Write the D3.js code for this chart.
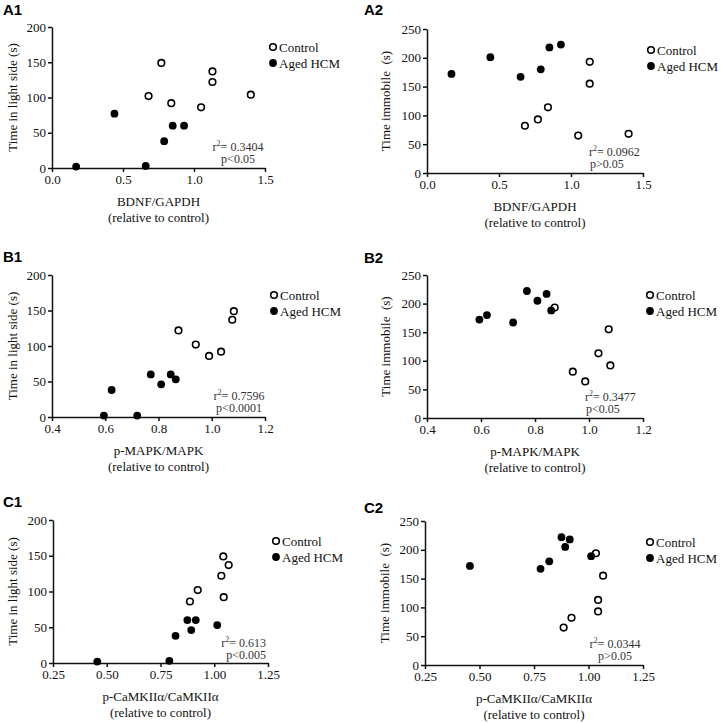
<!DOCTYPE html>
<html>
<head>
<meta charset="utf-8">
<script src="https://cdn.jsdelivr.net/npm/d3@7"></script>
<style>
  html, body { margin: 0; padding: 0; background: #fff; }
  svg { display: block; }
</style>
</head>
<body>
<div id="chart"></div>
<script>
// values
const a1Control = [[0.77, 149], [0.68, 102], [0.84, 92], [1.05, 86], [1.13, 137], [1.13, 122], [1.40, 104]];
const a1Aged = [[0.17, 2], [0.44, 77], [0.66, 3], [0.79, 38], [0.85, 60], [0.93, 60]];
const a2Control = [[0.68, 82], [0.77, 93], [0.84, 114], [1.05, 65], [1.13, 193], [1.13, 155], [1.40, 68]];
const a2Aged = [[0.17, 172], [0.44, 201], [0.65, 167], [0.79, 180], [0.85, 218], [0.93, 223]];
const b1Control = [[0.875, 122], [0.94, 102], [0.99, 86], [1.035, 92], [1.077, 137], [1.083, 149]];
const b1Aged = [[0.595, 2], [0.624, 38], [0.72, 2], [0.771, 60], [0.81, 46], [0.846, 60], [0.865, 53]];
const b2Control = [[0.873, 193], [0.94, 81], [0.986, 64], [1.035, 113], [1.073, 155], [1.079, 92]];
const b2Aged = [[0.594, 172], [0.622, 180], [0.719, 167], [0.77, 222], [0.809, 205], [0.843, 217], [0.86, 188]];
const c1Control = [[0.887, 86], [0.923, 102], [1.033, 122], [1.042, 149], [1.067, 137], [1.044, 92]];
const c1Aged = [[0.456, 2], [0.791, 3], [0.82, 38], [0.875, 60], [0.914, 60], [0.893, 46], [1.014, 53]];
const c2Control = [[0.886, 65], [0.922, 82], [1.044, 113], [1.044, 93], [1.067, 155], [1.034, 194]];
const c2Aged = [[0.456, 172], [0.78, 167], [0.82, 180], [0.876, 222], [0.914, 218], [0.893, 205], [1.012, 189]];

const xTicksBDNF = [0, 0.5, 1.0, 1.5];
const xTicksMAPK = [0.4, 0.6, 0.8, 1.0, 1.2];
const xTicksCaMK = [0.25, 0.5, 0.75, 1.0, 1.25];
const yTicksLight = [0, 50, 100, 150, 200];
const yTicksImmobile = [0, 50, 100, 150, 200, 250];

const legendLabels = ["Control", "Aged HCM"];
const xTitlesBDNF = ["BDNF/GAPDH", "(relative to control)"];
const xTitlesMAPK = ["p-MAPK/MAPK", "(relative to control)"];
const xTitlesCaMK = ["p-CaMKIIα/CaMKIIα", "(relative to control)"];
const yTitleLight = "Time in light side (s)";
const yTitleImmobile = "Time immobile  (s)";

const panels = [
  { label: "A1", lx: 3, ly: 15, x0: 52, x1: 265, yTop: 27, yBot: 168,
    xDom: [0, 1.5], xTicks: xTicksBDNF, xFmt: ".1f", yDom: [0, 200], yTicks: yTicksLight,
    control: a1Control, aged: a1Aged, xTitle: xTitlesBDNF, yTitle: yTitleLight, yTitleX: 17,
    legX: 273, legY: 47, stat: ["0.3404", "p<0.05"], statX: 238, statY: 151, statAnchor: "middle" },
  { label: "A2", lx: 364, ly: 15, x0: 427, x1: 643, yTop: 29, yBot: 173,
    xDom: [0, 1.5], xTicks: xTicksBDNF, xFmt: ".1f", yDom: [0, 250], yTicks: yTicksImmobile,
    control: a2Control, aged: a2Aged, xTitle: xTitlesBDNF, yTitle: yTitleImmobile, yTitleX: 390,
    legX: 651, legY: 50, stat: ["0.0962", "p>0.05"], statX: 589, statY: 156, statAnchor: "start" },
  { label: "B1", lx: 3, ly: 262, x0: 52, x1: 265, yTop: 275, yBot: 417,
    xDom: [0.4, 1.2], xTicks: xTicksMAPK, xFmt: ".1f", yDom: [0, 200], yTicks: yTicksLight,
    control: b1Control, aged: b1Aged, xTitle: xTitlesMAPK, yTitle: yTitleLight, yTitleX: 17,
    legX: 274, legY: 295, stat: ["0.7596", "p<0.0001"], statX: 239, statY: 400, statAnchor: "middle" },
  { label: "B2", lx: 364, ly: 263, x0: 427, x1: 643, yTop: 275, yBot: 418,
    xDom: [0.4, 1.2], xTicks: xTicksMAPK, xFmt: ".1f", yDom: [0, 250], yTicks: yTicksImmobile,
    control: b2Control, aged: b2Aged, xTitle: xTitlesMAPK, yTitle: yTitleImmobile, yTitleX: 390,
    legX: 650, legY: 295, stat: ["0.3477", "p<0.05"], statX: 585, statY: 401, statAnchor: "start" },
  { label: "C1", lx: 3, ly: 507, x0: 53, x1: 268, yTop: 520, yBot: 663,
    xDom: [0.25, 1.25], xTicks: xTicksCaMK, xFmt: ".2f", yDom: [0, 200], yTicks: yTicksLight,
    control: c1Control, aged: c1Aged, xTitle: xTitlesCaMK, yTitle: yTitleLight, yTitleX: 17,
    legX: 276, legY: 541, stat: ["0.613", "p<0.005"], statX: 266, statY: 647, statAnchor: "end" },
  { label: "C2", lx: 364, ly: 513, x0: 425, x1: 643, yTop: 521, yBot: 665,
    xDom: [0.25, 1.25], xTicks: xTicksCaMK, xFmt: ".2f", yDom: [0, 250], yTicks: yTicksImmobile,
    control: c2Control, aged: c2Aged, xTitle: xTitlesCaMK, yTitle: yTitleImmobile, yTitleX: 389,
    legX: 650, legY: 542, stat: ["0.0344", "p>0.05"], statX: 615, statY: 648, statAnchor: "middle" }
];

const serif = '"Liberation Serif", "DejaVu Serif", serif';

const svg = d3.select("#chart").append("svg")
  .attr("width", 723)
  .attr("height", 723);

function styleAxis(sel) {
  sel.attr("font-family", serif).attr("font-size", 13);
  sel.selectAll(".tick text").attr("fill", "#111").style("font-family", serif).style("font-size", "13px");
  sel.selectAll(".domain, .tick line").attr("stroke", "#111").attr("stroke-width", 1.5);
}

function drawPanel(p) {
  const g = svg.append("g");
  const x = d3.scaleLinear().domain(p.xDom).range([p.x0, p.x1]);
  const y = d3.scaleLinear().domain(p.yDom).range([p.yBot, p.yTop]);

  g.append("g")
    .attr("transform", `translate(0,${p.yBot})`)
    .call(d3.axisBottom(x).tickValues(p.xTicks).tickFormat(d3.format(p.xFmt))
      .tickSize(4).tickSizeOuter(0).tickPadding(3))
    .call(styleAxis);

  g.append("g")
    .attr("transform", `translate(${p.x0},0)`)
    .call(d3.axisLeft(y).tickValues(p.yTicks).tickFormat(d3.format("d"))
      .tickSize(4).tickSizeOuter(0).tickPadding(2))
    .call(styleAxis);

  // points
  g.selectAll(".ctl").data(p.control).enter().append("circle")
    .attr("cx", d => x(d[0])).attr("cy", d => y(d[1])).attr("r", 3.3)
    .attr("fill", "#fff").attr("stroke", "#000").attr("stroke-width", 1.6);
  g.selectAll(".aged").data(p.aged).enter().append("circle")
    .attr("cx", d => x(d[0])).attr("cy", d => y(d[1])).attr("r", 3.9)
    .attr("fill", "#000");

  // axis titles
  const midX = (p.x0 + p.x1) / 2;
  p.xTitle.forEach((t, i) => {
    g.append("text")
      .attr("x", midX).attr("y", p.yBot + 38 + i * 16)
      .attr("text-anchor", "middle")
      .style("font-family", serif).style("font-size", "13px").attr("fill", "#111")
      .text(t);
  });
  g.append("text")
    .attr("transform", `translate(${p.yTitleX},${(p.yTop + p.yBot) / 2}) rotate(-90)`)
    .attr("text-anchor", "middle")
    .style("font-family", serif).style("font-size", "13px").style("white-space", "pre")
    .attr("fill", "#111")
    .text(p.yTitle);

  // legend
  legendLabels.forEach((t, i) => {
    const cy = p.legY + i * 16;
    const c = g.append("circle").attr("cx", p.legX).attr("cy", cy);
    if (i === 0) c.attr("r", 3.3).attr("fill", "#fff").attr("stroke", "#000").attr("stroke-width", 1.6);
    else c.attr("r", 3.9).attr("fill", "#000");
    g.append("text")
      .attr("x", p.legX + 6).attr("y", cy + 4.5)
      .style("font-family", serif).style("font-size", "13px").attr("fill", "#111")
      .text(t);
  });

  // r2 / p annotation
  const r2 = g.append("text")
    .attr("x", p.statX).attr("y", p.statY)
    .attr("text-anchor", p.statAnchor)
    .style("font-family", serif).style("font-size", "12px").attr("fill", "#333");
  r2.append("tspan").text("r");
  r2.append("tspan").attr("dy", -5).style("font-size", "8px").text("2");
  r2.append("tspan").attr("dy", 5).text("= " + p.stat[0]);
  g.append("text")
    .attr("x", p.statAnchor === "start" ? p.statX + 1 : p.statX)
    .attr("y", p.statY + 12)
    .attr("text-anchor", p.statAnchor)
    .style("font-family", serif).style("font-size", "12px").attr("fill", "#333")
    .text(p.stat[1]);

  // panel label
  g.append("text")
    .attr("x", p.lx).attr("y", p.ly)
    .style("font-family", '"Liberation Sans", Arial, sans-serif')
    .style("font-size", "15px").style("font-weight", "bold").attr("fill", "#000")
    .text(p.label);
}

panels.forEach(drawPanel);
</script>
</body>
</html>
